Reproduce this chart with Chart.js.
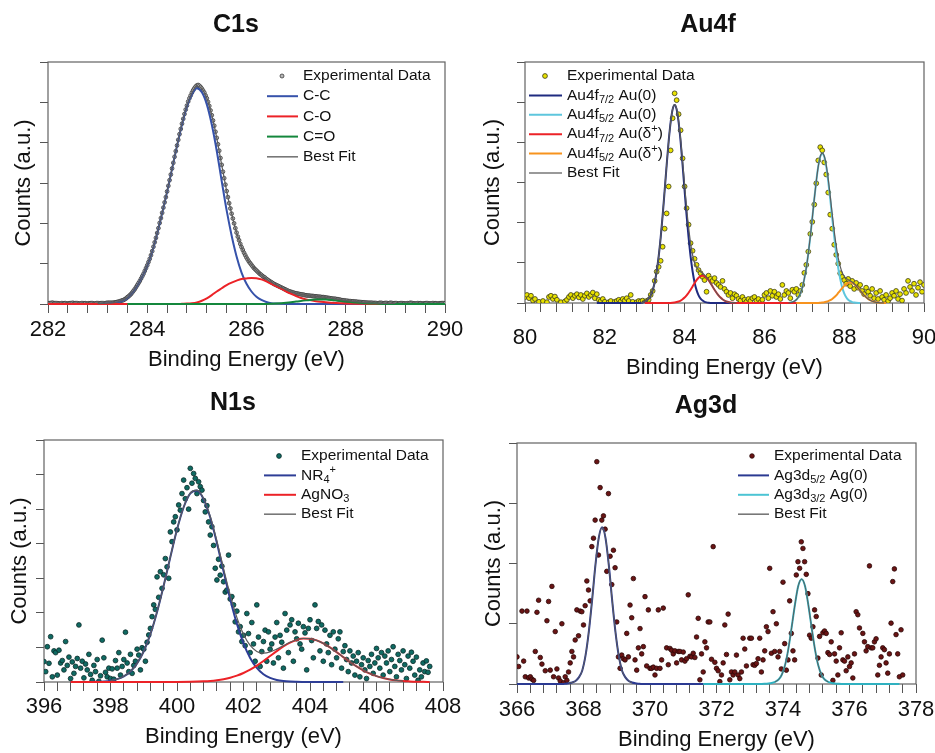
<!DOCTYPE html>
<html><head><meta charset="utf-8">
<script src="https://cdn.jsdelivr.net/npm/chart.js@4.4.1/dist/chart.umd.min.js"></script>
<style>
html,body{margin:0;padding:0;background:#fff;}
#wrap{position:relative;width:935px;height:753px;overflow:hidden;background:#fff;}
canvas{position:absolute;left:0;top:0;}
</style></head><body><div id="wrap">
<canvas id="c1" width="935" height="753"></canvas>
<canvas id="c2" width="935" height="753"></canvas>
<canvas id="c3" width="935" height="753"></canvas>
<canvas id="c4" width="935" height="753"></canvas>
</div>
<script>
const FONT = '"Liberation Sans", Arial, Helvetica, sans-serif';

// ---------------- C1s ----------------
const c1sStart = 282.0, c1sStep = 0.025;
const c1sExp = [
0.02,0.02,0.02,0.03,0.03,0.02,0.02,0.02,0.02,0.01,0.01,0.02,0.02,0.02,0.02,0.01,0.01,0.02,0.02,0.02,
0.03,0.02,0.02,0.02,0.02,0.01,0.01,0.02,0.02,0.02,0.02,0.01,0.01,0.02,0.02,0.02,0.02,0.01,0.01,0.02,
0.02,0.02,0.02,0.02,0.02,0.02,0.02,0.025,0.03,0.03,0.03,0.03,0.03,0.035,0.04,0.045,0.05,0.06,0.07,0.08,
0.09,0.10,0.12,0.14,0.17,0.19,0.22,0.25,0.29,0.33,0.37,0.42,0.47,0.52,0.57,0.63,0.69,0.75,0.82,0.89,
0.96,1.04,1.12,1.21,1.31,1.42,1.53,1.64,1.76,1.88,2.01,2.13,2.26,2.39,2.52,2.65,2.79,2.93,3.07,3.21,
3.36,3.50,3.65,3.79,3.93,4.07,4.21,4.34,4.47,4.59,4.71,4.82,4.92,5.02,5.10,5.17,5.24,5.30,5.35,5.39,
5.42,5.43,5.41,5.38,5.34,5.29,5.24,5.17,5.10,5.01,4.91,4.80,4.68,4.55,4.42,4.27,4.12,3.96,3.80,3.62,
3.45,3.28,3.12,2.96,2.80,2.65,2.50,2.37,2.24,2.12,2.00,1.88,1.77,1.67,1.58,1.49,1.41,1.34,1.27,1.21,
1.15,1.10,1.05,1.01,0.97,0.93,0.89,0.86,0.83,0.80,0.77,0.74,0.72,0.69,0.67,0.65,0.62,0.60,0.58,0.56,
0.54,0.52,0.50,0.485,0.47,0.455,0.44,0.425,0.41,0.395,0.38,0.365,0.35,0.335,0.32,0.31,0.30,0.29,0.28,0.27,
0.265,0.26,0.25,0.245,0.24,0.235,0.23,0.22,0.215,0.21,0.21,0.205,0.20,0.20,0.195,0.19,0.19,0.185,0.18,0.18,
0.175,0.17,0.17,0.165,0.16,0.155,0.15,0.145,0.14,0.135,0.13,0.13,0.125,0.12,0.115,0.11,0.10,0.095,0.09,0.09,
0.08,0.08,0.075,0.07,0.07,0.065,0.065,0.06,0.06,0.055,0.05,0.05,0.045,0.045,0.04,0.04,0.035,0.035,0.03,0.03,
0.03,0.03,0.025,0.025,0.025,0.02,0.02,0.025,0.03,0.025,0.02,0.02,0.025,0.025,0.02,0.02,0.03,0.025,0.02,0.02,
0.02,0.02,0.01,0.015,0.02,0.02,0.02,0.015,0.01,0.015,0.02,0.02,0.03,0.025,0.02,0.015,0.01,0.015,0.02,0.02,
0.02,0.015,0.01,0.015,0.02,0.02,0.02,0.015,0.01,0.015,0.02,0.02,0.02,0.015,0.01,0.015,0.02,0.02,0.02,0.02,
0.01];
const c1sCC = [[282,0],[283.0,0],[283.1,0.005],[283.2,0.01],[283.3,0.02],[283.4,0.04],[283.5,0.08],[283.6,0.15],[283.7,0.28],[283.8,0.46],[283.9,0.68],[284.0,0.95],[284.1,1.30],[284.2,1.75],[284.3,2.25],[284.4,2.78],[284.5,3.35],[284.6,3.92],[284.7,4.45],[284.8,4.90],[284.9,5.20],[285.0,5.35],[285.1,5.25],[285.2,4.95],[285.3,4.45],[285.4,3.80],[285.5,3.05],[285.6,2.32],[285.7,1.70],[285.8,1.18],[285.9,0.78],[286.0,0.50],[286.1,0.31],[286.2,0.18],[286.3,0.10],[286.4,0.05],[286.5,0.02],[286.6,0.01],[286.8,0],[290,0]];
const c1sCO = [[282,0],[284.6,0],[284.7,0.005],[284.8,0.01],[284.9,0.02],[285.0,0.04],[285.1,0.08],[285.2,0.14],[285.3,0.22],[285.4,0.31],[285.5,0.39],[285.6,0.47],[285.7,0.53],[285.8,0.58],[285.9,0.62],[286.0,0.635],[286.1,0.645],[286.2,0.64],[286.3,0.61],[286.4,0.56],[286.5,0.50],[286.6,0.44],[286.7,0.38],[286.8,0.31],[286.9,0.25],[287.0,0.195],[287.1,0.15],[287.2,0.115],[287.3,0.09],[287.4,0.07],[287.5,0.055],[287.6,0.042],[287.7,0.032],[287.8,0.024],[287.9,0.018],[288.0,0.013],[288.2,0.007],[288.4,0.003],[288.6,0],[290,0]];
const c1sCdO = [[283.6,0],[286.4,0],[286.6,0.01],[286.8,0.03],[287.0,0.06],[287.2,0.09],[287.4,0.11],[287.6,0.11],[287.8,0.09],[288.0,0.06],[288.2,0.04],[288.4,0.02],[288.6,0.01],[288.8,0],[290,0]];
const c1sFit = [[283.0,0.01],[283.1,0.015],[283.2,0.02],[283.3,0.03],[283.4,0.05],[283.5,0.09],[283.6,0.16],[283.7,0.29],[283.8,0.47],[283.9,0.69],[284.0,0.96],[284.1,1.31],[284.2,1.76],[284.3,2.26],[284.4,2.79],[284.5,3.36],[284.6,3.93],[284.7,4.47],[284.8,4.92],[284.9,5.23],[285.0,5.40],[285.1,5.34],[285.2,5.10],[285.3,4.68],[285.4,4.12],[285.5,3.45],[285.6,2.80],[285.7,2.24],[285.8,1.77],[285.9,1.41],[286.0,1.15],[286.1,0.97],[286.2,0.83],[286.3,0.72],[286.4,0.62],[286.5,0.54],[286.6,0.47],[286.7,0.41],[286.8,0.35],[286.9,0.30],[287.0,0.265],[287.1,0.24],[287.2,0.215],[287.3,0.20],[287.4,0.19],[287.5,0.175],[287.6,0.162],[287.7,0.142],[287.8,0.124],[287.9,0.103],[288.0,0.083],[288.2,0.057],[288.4,0.033],[288.6,0.02],[288.8,0.015],[289.0,0.012]];

// ---------------- Au4f ----------------
const auStart = 80.0, auStep = 0.05;
const auExp = [
0.15,0.20,0.12,0.18,0.06,0.10,-0.2,0.03,-0.2,0.05,
-0.2,0.02,0.15,0.18,0.10,0.16,0.08,-0.2,0.02,-0.2,
0.04,0.08,0.15,0.20,0.12,0.18,0.22,0.14,0.20,0.10,
0.18,0.24,0.15,0.20,0.26,0.12,0.22,0.08,0.05,0.10,
0.03,-0.2,0.02,0.05,-0.2,0.03,0.05,0.08,0.04,0.10,
0.06,0.12,0.05,0.20,0.03,-0.2,0.02,0.05,0.04,0.06,
0.02,0.05,0.08,0.20,0.30,0.55,0.78,0.90,1.05,1.40,
1.85,2.23,2.90,3.80,4.60,5.22,5.05,4.70,4.30,3.60,
2.90,2.36,1.95,1.49,1.30,1.10,0.95,0.82,0.74,0.65,
0.57,0.28,0.68,0.60,0.55,0.62,0.50,0.45,0.40,0.55,
0.35,0.28,0.20,0.25,0.12,0.22,0.18,0.10,0.06,0.15,
0.08,0.03,0.10,0.05,0.12,0.15,0.06,0.10,0.02,0.08,
0.20,0.25,0.12,0.30,0.18,0.28,0.15,0.22,0.10,0.45,
0.20,0.30,0.25,0.12,0.33,0.28,0.35,0.20,0.30,0.45,
0.75,0.95,1.28,1.72,2.02,2.45,2.98,3.55,3.88,3.80,
3.50,3.20,2.75,2.20,1.85,1.45,1.20,0.98,0.74,0.65,
0.57,0.48,0.60,0.42,0.55,0.35,0.50,0.38,0.45,0.30,
0.22,0.38,0.28,0.18,0.35,0.12,0.25,0.10,0.30,0.15,
0.08,0.20,0.05,0.12,0.25,0.18,0.30,0.10,0.22,0.06,
0.35,0.25,0.55,0.40,0.30,0.48,0.20,0.38,0.52,0.28,
0.45];
const au7Au0 = [[81.8,0],[82.9,0],[83.0,0.03],[83.05,0.06],[83.1,0.11],[83.15,0.19],[83.2,0.32],[83.25,0.51],[83.3,0.79],[83.35,1.16],[83.4,1.63],[83.45,2.18],[83.5,2.80],[83.55,3.43],[83.6,4.02],[83.65,4.50],[83.7,4.82],[83.75,4.93],[83.8,4.82],[83.85,4.50],[83.9,4.02],[83.95,3.43],[84.0,2.80],[84.05,2.18],[84.1,1.63],[84.15,1.16],[84.2,0.79],[84.25,0.51],[84.3,0.32],[84.35,0.19],[84.4,0.11],[84.45,0.06],[84.5,0.03],[84.55,0.015],[84.6,0.007],[84.7,0],[85.6,0]];
const au5Au0 = [[86.6,0],[86.7,0.023],[86.75,0.044],[86.8,0.081],[86.85,0.143],[86.9,0.24],[86.95,0.385],[87.0,0.60],[87.05,0.875],[87.1,1.23],[87.15,1.65],[87.2,2.11],[87.25,2.59],[87.3,3.03],[87.35,3.40],[87.4,3.64],[87.45,3.72],[87.5,3.64],[87.55,3.40],[87.6,3.03],[87.65,2.59],[87.7,2.11],[87.75,1.65],[87.8,1.23],[87.85,0.875],[87.9,0.60],[87.95,0.385],[88.0,0.24],[88.05,0.143],[88.1,0.081],[88.15,0.044],[88.2,0.023],[88.25,0.011],[88.3,0.005],[88.4,0]];
const au7AuD = [[83.0,0],[83.65,0.003],[83.7,0.007],[83.75,0.013],[83.8,0.023],[83.85,0.038],[83.9,0.06],[83.95,0.092],[84.0,0.135],[84.05,0.19],[84.1,0.255],[84.15,0.33],[84.2,0.41],[84.25,0.494],[84.3,0.568],[84.35,0.628],[84.4,0.667],[84.45,0.68],[84.5,0.667],[84.55,0.628],[84.6,0.568],[84.65,0.494],[84.7,0.41],[84.75,0.33],[84.8,0.255],[84.85,0.19],[84.9,0.135],[84.95,0.092],[85.0,0.06],[85.05,0.038],[85.1,0.023],[85.15,0.013],[85.2,0.007],[85.3,0],[86.9,0]];
const au5AuD = [[86.8,0],[87.35,0.003],[87.4,0.006],[87.45,0.01],[87.5,0.017],[87.55,0.029],[87.6,0.045],[87.65,0.069],[87.7,0.10],[87.75,0.142],[87.8,0.19],[87.85,0.25],[87.9,0.31],[87.95,0.37],[88.0,0.426],[88.05,0.47],[88.1,0.50],[88.15,0.51],[88.2,0.50],[88.25,0.47],[88.3,0.426],[88.35,0.37],[88.4,0.31],[88.45,0.25],[88.5,0.19],[88.55,0.142],[88.6,0.10],[88.65,0.069],[88.7,0.045],[88.75,0.029],[88.8,0.017],[88.85,0.01],[88.9,0.006],[88.95,0.003],[89.05,0]];
const auFit = [[82.9,0],[83.0,0.03],[83.05,0.06],[83.1,0.11],[83.15,0.19],[83.2,0.32],[83.25,0.51],[83.3,0.79],[83.35,1.16],[83.4,1.63],[83.45,2.18],[83.5,2.80],[83.55,3.43],[83.6,4.02],[83.65,4.50],[83.7,4.83],[83.75,4.94],[83.8,4.84],[83.85,4.54],[83.9,4.08],[83.95,3.52],[84.0,2.94],[84.05,2.37],[84.1,1.89],[84.15,1.49],[84.2,1.20],[84.25,1.00],[84.3,0.89],[84.35,0.82],[84.4,0.78],[84.45,0.74],[84.5,0.70],[84.55,0.64],[84.6,0.575],[84.65,0.494],[84.7,0.41],[84.75,0.33],[84.8,0.255],[84.85,0.19],[84.9,0.135],[84.95,0.092],[85.0,0.06],[85.05,0.038],[85.1,0.023],[85.15,0.013],[85.2,0.007],[85.3,0],[86.0,null],[86.6,0],[86.7,0.023],[86.75,0.044],[86.8,0.081],[86.85,0.143],[86.9,0.24],[86.95,0.385],[87.0,0.60],[87.05,0.875],[87.1,1.23],[87.15,1.65],[87.2,2.11],[87.25,2.59],[87.3,3.03],[87.35,3.40],[87.4,3.65],[87.45,3.73],[87.5,3.66],[87.55,3.43],[87.6,3.08],[87.65,2.66],[87.7,2.21],[87.75,1.79],[87.8,1.42],[87.85,1.125],[87.9,0.91],[87.95,0.755],[88.0,0.666],[88.05,0.613],[88.1,0.58],[88.15,0.554],[88.2,0.523],[88.25,0.48],[88.3,0.43],[88.35,0.37],[88.4,0.31],[88.45,0.25],[88.5,0.19],[88.55,0.142],[88.6,0.10],[88.65,0.069],[88.7,0.045],[88.75,0.029],[88.8,0.017],[88.85,0.01],[88.9,0.005],[89.0,0]];

// ---------------- N1s ----------------
const n1sStart = 396.0, n1sStep = 0.05;
const n1sExp = [
0.59,0.30,1.02,0.54,1.31,0.15,0.90,0.85,0.20,0.92,
0.55,0.62,0.35,1.17,0.48,0.72,0.10,0.58,0.25,0.45,
0.68,1.65,0.40,0.60,0.12,0.52,0.35,0.80,0.22,0.05,
0.48,0.30,0.65,0.02,0.18,1.21,0.70,0.28,0.15,0.40,
0.10,0.38,0.08,0.62,0.40,0.85,0.20,0.45,0.65,1.44,
0.55,0.30,0.80,0.25,0.48,0.60,0.95,0.78,0.35,0.99,
0.95,0.60,1.15,1.36,1.55,1.89,2.23,2.10,3.04,2.45,
3.19,2.71,3.10,3.57,3.33,3.00,4.34,4.06,4.63,4.78,
4.40,5.12,4.97,5.45,5.84,5.30,5.62,5.00,6.18,5.75,
6.03,5.89,5.45,5.79,5.65,5.55,5.25,4.92,5.10,4.63,
4.25,4.49,3.95,3.29,2.95,3.55,3.09,3.35,2.90,2.60,
2.66,3.67,2.40,2.47,2.23,1.74,2.05,1.45,1.60,1.17,
1.35,1.05,1.98,1.40,0.85,1.72,1.10,0.60,2.23,1.30,
0.45,0.88,1.17,1.50,0.60,1.45,0.95,1.10,0.55,1.30,
1.72,0.70,1.35,1.15,0.40,1.98,1.50,0.85,1.65,1.80,
0.60,1.45,1.25,1.70,1.10,0.95,1.60,1.42,0.35,1.55,
1.80,1.20,0.70,2.23,1.55,1.75,0.90,1.65,0.60,1.50,
1.10,0.85,1.35,0.50,1.45,0.95,0.70,1.25,1.45,0.40,
0.88,1.05,0.65,0.30,0.90,0.55,0.75,0.20,0.60,0.85,
0.15,0.50,0.70,0.35,0.10,0.62,0.45,0.80,0.25,0.55,
0.97,0.70,0.40,0.85,0.20,0.75,0.55,0.90,0.30,0.65,
1.02,0.45,0.15,0.80,0.62,0.35,0.90,0.50,0.10,0.75,
0.40,0.86,0.60,0.20,0.72,0.05,0.35,0.15,0.55,0.30,
0.61,0.28,0.45];
const n1sNR4 = [[396.8,0],[397.2,0],[397.4,0.003],[397.6,0.007],[397.8,0.017],[398.0,0.039],[398.2,0.082],[398.4,0.164],[398.6,0.306],[398.8,0.538],[399.0,0.889],[399.2,1.384],[399.4,2.026],[399.6,2.79],[399.8,3.615],[400.0,4.41],[400.2,5.055],[400.4,5.456],[400.6,5.54],[400.8,5.29],[401.0,4.757],[401.2,4.022],[401.4,3.20],[401.6,2.395],[401.8,1.687],[402.0,1.118],[402.2,0.697],[402.4,0.409],[402.6,0.225],[402.8,0.117],[403.0,0.057],[403.2,0.026],[403.4,0.011],[403.6,0.005],[403.8,0.002],[404.0,0],[405.0,0]];
const n1sAgNO3 = [[396.8,0],[400.0,0.002],[400.4,0.006],[400.8,0.019],[401.0,0.031],[401.2,0.052],[401.4,0.082],[401.6,0.125],[401.8,0.184],[402.0,0.261],[402.2,0.359],[402.4,0.475],[402.6,0.608],[402.8,0.75],[403.0,0.893],[403.2,1.026],[403.4,1.137],[403.6,1.217],[403.8,1.256],[404.0,1.252],[404.2,1.204],[404.4,1.117],[404.6,1.0],[404.8,0.864],[405.0,0.721],[405.2,0.58],[405.4,0.451],[405.6,0.338],[405.8,0.244],[406.0,0.17],[406.2,0.115],[406.4,0.075],[406.6,0.047],[406.8,0.028],[407.0,0.017],[407.2,0.009],[407.4,0.005],[407.6,0.003]];
const n1sFit = [[398.0,0.039],[398.2,0.082],[398.4,0.164],[398.6,0.306],[398.8,0.538],[399.0,0.889],[399.2,1.384],[399.4,2.026],[399.6,2.79],[399.8,3.616],[400.0,4.412],[400.2,5.058],[400.4,5.462],[400.6,5.55],[400.8,5.31],[401.0,4.79],[401.2,4.074],[401.4,3.282],[401.6,2.52],[401.8,1.871],[402.0,1.379],[402.2,1.056],[402.4,0.884],[402.6,0.833],[402.8,0.867],[403.0,0.95],[403.2,1.052],[403.4,1.148],[403.6,1.222],[403.8,1.258],[404.0,1.252],[404.2,1.204],[404.4,1.117],[404.6,1.0],[404.8,0.864],[405.0,0.721],[405.2,0.58],[405.4,0.451],[405.6,0.338],[405.8,0.244],[406.0,0.17],[406.2,0.115],[406.4,0.075],[406.6,0.047],[406.8,0.028]];

// ---------------- Ag3d ----------------
const agStart = 366.0, agStep = 0.05;
const agExp = [
0.45,0.29,-0.2,1.21,0.38,0.12,1.21,0.10,0.12,0.08,
0.06,0.54,1.19,1.39,0.44,0.33,-0.2,0.22,1.05,1.37,
0.23,1.62,0.12,0.87,0.25,0.10,0.05,1.00,0.02,0.12,
0.06,0.20,0.35,0.54,0.45,0.73,1.23,0.80,1.21,1.20,
0.98,1.30,1.71,1.56,1.38,2.28,2.42,2.72,3.69,2.14,
3.26,2.72,2.79,2.57,1.87,3.16,2.12,1.65,2.22,1.93,
1.03,0.45,0.26,0.48,0.42,0.40,0.84,0.45,1.31,1.10,
1.75,0.40,0.23,0.60,0.92,0.50,0.62,1.45,0.30,1.23,
0.26,0.26,0.28,0.15,0.26,1.23,0.26,0.40,1.26,-0.2,
0.60,0.32,0.59,0.56,0.50,0.55,0.35,0.54,0.54,0.40,
0.53,0.38,0.42,1.48,0.46,0.45,0.51,0.44,0.78,1.09,
0.07,0.50,0.20,0.70,0.60,1.03,1.03,0.41,2.28,0.36,
0.26,0.22,0.04,0.15,0.35,0.98,0.49,1.16,0.07,0.20,
0.15,0.20,0.48,0.15,0.09,0.20,0.76,0.58,0.30,-0.2,
0.76,0.76,0.32,0.31,0.34,0.42,0.76,0.20,0.40,0.55,
0.95,0.87,1.92,0.51,1.20,0.54,1.00,0.45,0.54,0.25,
1.69,0.67,0.23,0.40,1.38,0.84,0.55,0.40,1.81,2.03,
1.92,2.36,2.25,2.03,1.82,1.50,0.81,0.76,0.95,1.23,
1.12,0.43,0.79,0.15,0.85,0.88,0.84,0.52,0.49,0.70,
0.06,0.50,0.38,0.15,0.60,0.85,0.40,0.38,0.22,0.45,
0.29,0.35,0.10,0.50,1.20,1.15,0.93,-0.2,0.84,0.70,
0.55,0.62,1.96,0.60,0.60,0.70,0.75,0.15,0.31,0.45,
0.60,0.57,0.35,0.18,0.50,1.01,1.70,1.91,0.82,0.50,
0.12,0.90,0.15];
const ag52 = [[366.0,0],[367.36,0],[367.46,0.005],[367.56,0.012],[367.66,0.025],[367.76,0.05],[367.86,0.11],[367.96,0.22],[368.06,0.47],[368.16,0.87],[368.26,1.40],[368.36,1.98],[368.46,2.43],[368.56,2.60],[368.66,2.43],[368.76,1.98],[368.86,1.40],[368.96,0.87],[369.06,0.47],[369.16,0.22],[369.26,0.11],[369.36,0.05],[369.46,0.025],[369.56,0.012],[369.66,0.005],[369.76,0],[371.6,0]];
const ag32 = [[371.6,0],[373.36,0],[373.46,0.003],[373.56,0.008],[373.66,0.017],[373.76,0.035],[373.86,0.07],[373.96,0.15],[374.06,0.31],[374.16,0.58],[374.26,0.94],[374.36,1.32],[374.46,1.63],[374.56,1.74],[374.66,1.63],[374.76,1.32],[374.86,0.94],[374.96,0.58],[375.06,0.31],[375.16,0.15],[375.26,0.07],[375.36,0.035],[375.46,0.017],[375.56,0.008],[375.66,0.003],[375.76,0],[377.5,0]];
const agFit = [[367.56,0.012],[367.66,0.025],[367.76,0.05],[367.86,0.11],[367.96,0.22],[368.06,0.47],[368.16,0.87],[368.26,1.40],[368.36,1.98],[368.46,2.43],[368.56,2.60],[368.66,2.43],[368.76,1.98],[368.86,1.40],[368.96,0.87],[369.06,0.47],[369.16,0.22],[369.26,0.11],[369.36,0.05],[369.46,0.025],[371.0,null],[373.76,0.035],[373.86,0.07],[373.96,0.15],[374.06,0.31],[374.16,0.58],[374.26,0.94],[374.36,1.32],[374.46,1.63],[374.56,1.74],[374.66,1.63],[374.76,1.32],[374.86,0.94],[374.96,0.58],[375.06,0.31],[375.16,0.15],[375.26,0.07],[375.36,0.035]];

// ---------------- helpers ----------------
function seq(start, step, ys) { return ys.map((y, i) => ({x: Math.round((start + i * step) * 1000) / 1000, y})); }
function pairs(arr) { return arr.map(p => ({x: p[0], y: p[1]})); }

const FITC = '#5c5c5c';
function expSet(data, fill, stroke, r) {
  return {label: 'Experimental Data', data, showLine: false, pointRadius: r, pointBackgroundColor: fill,
          pointBorderColor: stroke, pointBorderWidth: 0.8, order: 3, clip: 0};
}
function curveSet(label, arr, color, w, order) {
  return {label, data: pairs(arr), borderColor: color, borderWidth: w, pointRadius: 0, fill: false,
          cubicInterpolationMode: 'monotone', order, spanGaps: false,
          clip: {left: 0, top: 0, right: 0, bottom: 2}};
}

function deco(P) {
  return {
    id: 'deco',
    beforeDatasetsDraw(chart) {
      const ctx = chart.ctx, a = chart.chartArea;
      ctx.save();
      ctx.strokeStyle = '#626262'; ctx.lineWidth = 1.2;
      ctx.strokeRect(a.left, a.top, a.right - a.left, a.bottom - a.top);
      ctx.restore();
    },
    afterDatasetsDraw(chart) {
      const ctx = chart.ctx;
      ctx.save();
      ctx.fillStyle = '#111'; ctx.textAlign = 'center'; ctx.textBaseline = 'middle';
      ctx.font = 'bold 25px ' + FONT;
      ctx.fillText(P.title, P.titleX, P.titleY);
      const L = P.legend;
      let y = L.y0;
      for (const it of L.items) {
        if (it.kind === 'point') {
          ctx.beginPath(); ctx.arc(L.mx, y, it.r, 0, Math.PI * 2);
          ctx.fillStyle = it.fill; ctx.fill();
          ctx.lineWidth = 0.8; ctx.strokeStyle = it.stroke; ctx.stroke();
        } else {
          ctx.beginPath(); ctx.moveTo(L.x0, y); ctx.lineTo(L.x1, y);
          ctx.strokeStyle = it.color; ctx.lineWidth = it.w || 2; ctx.stroke();
        }
        let x = L.tx;
        ctx.textAlign = 'left'; ctx.textBaseline = 'middle'; ctx.fillStyle = '#111';
        for (const seg of it.text) {
          const t = seg[0], mode = seg[1];
          const fs = mode ? 11 : 15.5;
          ctx.font = fs + 'px ' + FONT;
          const dy = mode === 'sub' ? 4.5 : (mode === 'sup' ? -5 : 0);
          ctx.fillText(t, x, y + dy);
          x += ctx.measureText(t).width;
        }
        y += L.dy;
      }
      ctx.restore();
    }
  };
}

function makeChart(id, P) {
  const lh = 22 * 1.2;
  const padL = P.yTitleX - lh / 2;
  const xBottom = P.xTitleY + lh / 2;
  return new Chart(document.getElementById(id), {
    type: 'line',
    data: {datasets: P.datasets},
    options: {
      responsive: false, animation: false, events: [],
      layout: {padding: {left: padL, top: P.area.t, right: 935 - P.area.r, bottom: 753 - xBottom}},
      plugins: {legend: {display: false}, tooltip: {enabled: false}, title: {display: false}},
      scales: {
        x: {
          type: 'linear', min: P.xMin, max: P.xMax, position: 'bottom',
          afterFit: s => { s.height = xBottom - P.area.b; s.paddingLeft = 0; s.paddingRight = 0; },
          border: {display: false},
          grid: {display: true, drawOnChartArea: false, drawTicks: true, tickLength: 9, color: '#555', lineWidth: 1},
          ticks: {stepSize: 0.4, autoSkip: false, maxRotation: 0, minRotation: 0, maxTicksLimit: 1000,
                  padding: P.labelY - P.area.b - 9 - lh / 2, color: '#111', font: {family: FONT, size: 22},
                  callback: v => (Math.abs(v / 2 - Math.round(v / 2)) < 1e-6 ? String(Math.round(v)) : '')},
          title: {display: true, text: 'Binding Energy (eV)', color: '#111', font: {family: FONT, size: 22}, padding: 0}
        },
        y: {
          type: 'linear', min: 0, max: P.yMax, position: 'left',
          afterFit: s => { s.width = P.area.l - padL; s.paddingTop = 0; s.paddingBottom = 0; },
          border: {display: false},
          grid: {display: true, drawOnChartArea: false, drawTicks: true, tickLength: 8, color: '#555', lineWidth: 1},
          ticks: {stepSize: 1, autoSkip: false, padding: 0, callback: () => ''},
          title: {display: true, text: 'Counts (a.u.)', color: '#111', font: {family: FONT, size: 22}, padding: 0}
        }
      }
    },
    plugins: [deco(P)]
  });
}

// colours
const cC1 = {fill: '#b8b8b8', stroke: '#383838'};
const cAu = {fill: '#e8e200', stroke: '#3a3a1a'};
const cN = {fill: '#0f6a62', stroke: '#0b2a28'};
const cAg = {fill: '#6a1414', stroke: '#2a0808'};

makeChart('c1', {
  area: {l: 48, t: 62, r: 445, b: 304}, yTitleX: 24, labelY: 330, xTitleY: 360,
  xMin: 282, xMax: 290, yMax: 6, title: 'C1s', titleX: 236, titleY: 25,
  datasets: [
    expSet(seq(c1sStart, c1sStep, c1sExp), cC1.fill, cC1.stroke, 1.9),
    curveSet('C-C', c1sCC, '#3652aa', 2, 2.3),
    curveSet('C-O', c1sCO, '#ec2227', 2, 2.2),
    curveSet('C=O', c1sCdO, '#14873c', 2, 2.1),
    curveSet('Best Fit', c1sFit, FITC, 1.2, 1)
  ],
  legend: {x0: 267, x1: 298, mx: 282, tx: 303, y0: 76, dy: 20.2, items: [
    {kind: 'point', fill: cC1.fill, stroke: cC1.stroke, r: 2, text: [['Experimental Data', '']]},
    {kind: 'line', color: '#3652aa', text: [['C-C', '']]},
    {kind: 'line', color: '#ec2227', text: [['C-O', '']]},
    {kind: 'line', color: '#14873c', text: [['C=O', '']]},
    {kind: 'line', color: '#777', w: 1.6, text: [['Best Fit', '']]}
  ]}
});

makeChart('c2', {
  area: {l: 525, t: 62, r: 924, b: 303}, yTitleX: 493, labelY: 338, xTitleY: 368,
  xMin: 80, xMax: 90, yMax: 6, title: 'Au4f', titleX: 708, titleY: 25,
  datasets: [
    expSet(seq(auStart, auStep, auExp), cAu.fill, cAu.stroke, 2.4),
    curveSet('Au4f7/2 Au(0)', au7Au0, '#1f2b80', 2, 2.4),
    curveSet('Au4f5/2 Au(0)', au5Au0, '#5ec6dd', 2, 2.3),
    curveSet('Au4f7/2 Au(d+)', au7AuD, '#ec2227', 2, 2.2),
    curveSet('Au4f5/2 Au(d+)', au5AuD, '#f7931e', 2, 2.1),
    curveSet('Best Fit', auFit, FITC, 1.2, 1)
  ],
  legend: {x0: 529, x1: 562, mx: 545, tx: 567, y0: 76, dy: 19.4, items: [
    {kind: 'point', fill: cAu.fill, stroke: cAu.stroke, r: 2.4, text: [['Experimental Data', '']]},
    {kind: 'line', color: '#1f2b80', text: [['Au4f', ''], ['7/2', 'sub'], [' Au(0)', '']]},
    {kind: 'line', color: '#5ec6dd', text: [['Au4f', ''], ['5/2', 'sub'], [' Au(0)', '']]},
    {kind: 'line', color: '#ec2227', text: [['Au4f', ''], ['7/2', 'sub'], [' Au(δ', ''], ['+', 'sup'], [')', '']]},
    {kind: 'line', color: '#f7931e', text: [['Au4f', ''], ['5/2', 'sub'], [' Au(δ', ''], ['+', 'sup'], [')', '']]},
    {kind: 'line', color: '#777', w: 1.6, text: [['Best Fit', '']]}
  ]}
});

makeChart('c3', {
  area: {l: 44, t: 440, r: 443, b: 682}, yTitleX: 20, labelY: 707, xTitleY: 737,
  xMin: 396, xMax: 408, yMax: 7, title: 'N1s', titleX: 233, titleY: 403,
  datasets: [
    expSet(seq(n1sStart, n1sStep, n1sExp), cN.fill, cN.stroke, 2.4),
    curveSet('NR4+', n1sNR4, '#2e3e96', 2, 2.2),
    curveSet('AgNO3', n1sAgNO3, '#ec2227', 2, 2.1),
    curveSet('Best Fit', n1sFit, FITC, 1.2, 1)
  ],
  legend: {x0: 264, x1: 296, mx: 279, tx: 301, y0: 456, dy: 19.4, items: [
    {kind: 'point', fill: cN.fill, stroke: cN.stroke, r: 2.4, text: [['Experimental Data', '']]},
    {kind: 'line', color: '#2e3e96', text: [['NR', ''], ['4', 'sub'], ['+', 'sup']]},
    {kind: 'line', color: '#ec2227', text: [['AgNO', ''], ['3', 'sub']]},
    {kind: 'line', color: '#777', w: 1.6, text: [['Best Fit', '']]}
  ]}
});

makeChart('c4', {
  area: {l: 517, t: 443, r: 916, b: 684}, yTitleX: 494, labelY: 710, xTitleY: 740,
  xMin: 366, xMax: 378, yMax: 4, title: 'Ag3d', titleX: 706, titleY: 406,
  datasets: [
    expSet(seq(agStart, agStep, agExp), cAg.fill, cAg.stroke, 2.3),
    curveSet('Ag3d5/2 Ag(0)', ag52, '#2b3a92', 2, 2.2),
    curveSet('Ag3d3/2 Ag(0)', ag32, '#2fb1c0', 2, 2.1),
    curveSet('Best Fit', agFit, FITC, 1.0, 1)
  ],
  legend: {x0: 738, x1: 769, mx: 752, tx: 774, y0: 456, dy: 19.4, items: [
    {kind: 'point', fill: cAg.fill, stroke: cAg.stroke, r: 2.3, text: [['Experimental Data', '']]},
    {kind: 'line', color: '#2b3a92', text: [['Ag3d', ''], ['5/2', 'sub'], [' Ag(0)', '']]},
    {kind: 'line', color: '#4cc4d4', text: [['Ag3d', ''], ['3/2', 'sub'], [' Ag(0)', '']]},
    {kind: 'line', color: '#777', w: 1.6, text: [['Best Fit', '']]}
  ]}
});
</script>
</body></html>
